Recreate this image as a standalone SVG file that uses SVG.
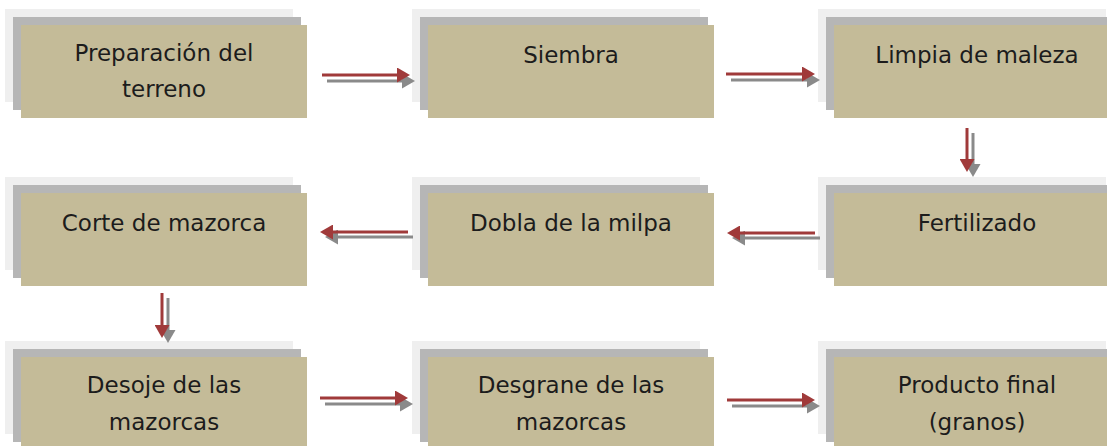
<svg xmlns="http://www.w3.org/2000/svg" width="1107" height="446" viewBox="0 0 1107 446">
<style>
.l{fill:#efefef}
.g{fill:#b6b6b6}
.t{fill:#c4bb98}
.tx{font-family:"DejaVu Sans",sans-serif;font-size:23px;fill:#1c1c1c;text-anchor:middle}
.r{stroke:#a03a3a;stroke-width:3;fill:none}
.s{stroke:#8a8a8a;stroke-width:3;fill:none}
</style>
<defs>
<marker id="ar" viewBox="0 0 13 15" refX="2" refY="7.5" markerWidth="13" markerHeight="15" markerUnits="userSpaceOnUse" orient="auto"><path d="M0,0 L13,7.5 L0,15 Z" fill="#a03a3a"/></marker>
<marker id="as" viewBox="0 0 13 15" refX="2" refY="7.5" markerWidth="13" markerHeight="15" markerUnits="userSpaceOnUse" orient="auto"><path d="M0,0 L13,7.5 L0,15 Z" fill="#8a8a8a"/></marker>
</defs>
<rect width="1107" height="446" fill="#ffffff"/>
<g id="n1"><rect class="l" x="5" y="9" width="288" height="93"/><rect class="g" x="13" y="17" width="288" height="93"/><rect class="t" x="21" y="25" width="286" height="93"/><text class="tx" x="164" y="61">Preparación del</text><text class="tx" x="164" y="97">terreno</text></g>
<g id="n2"><rect class="l" x="412" y="9" width="288" height="93"/><rect class="g" x="420" y="17" width="288" height="93"/><rect class="t" x="428" y="25" width="286" height="93"/><text class="tx" x="571" y="63">Siembra</text></g>
<g id="n3"><rect class="l" x="818" y="9" width="288" height="93"/><rect class="g" x="826" y="17" width="288" height="93"/><rect class="t" x="834" y="25" width="286" height="93"/><text class="tx" x="977" y="63">Limpia de maleza</text></g>
<g id="n4"><rect class="l" x="818" y="177" width="288" height="93"/><rect class="g" x="826" y="185" width="288" height="93"/><rect class="t" x="834" y="193" width="286" height="93"/><text class="tx" x="977" y="231">Fertilizado</text></g>
<g id="n5"><rect class="l" x="412" y="177" width="288" height="93"/><rect class="g" x="420" y="185" width="288" height="93"/><rect class="t" x="428" y="193" width="286" height="93"/><text class="tx" x="571" y="231">Dobla de la milpa</text></g>
<g id="n6"><rect class="l" x="5" y="177" width="288" height="93"/><rect class="g" x="13" y="185" width="288" height="93"/><rect class="t" x="21" y="193" width="286" height="93"/><text class="tx" x="164" y="231">Corte de mazorca</text></g>
<g id="n7"><rect class="l" x="5" y="341" width="288" height="93"/><rect class="g" x="13" y="349" width="288" height="93"/><rect class="t" x="21" y="357" width="286" height="93"/><text class="tx" x="164" y="393">Desoje de las</text><text class="tx" x="164" y="430">mazorcas</text></g>
<g id="n8"><rect class="l" x="412" y="341" width="288" height="93"/><rect class="g" x="420" y="349" width="288" height="93"/><rect class="t" x="428" y="357" width="286" height="93"/><text class="tx" x="571" y="393">Desgrane de las</text><text class="tx" x="571" y="430">mazorcas</text></g>
<g id="n9"><rect class="l" x="818" y="341" width="288" height="93"/><rect class="g" x="826" y="349" width="288" height="93"/><rect class="t" x="834" y="357" width="286" height="93"/><text class="tx" x="977" y="393">Producto final</text><text class="tx" x="977" y="430">(granos)</text></g>
<g id="connectors">
<line class="s" x1="327" y1="81" x2="404" y2="81" marker-end="url(#as)"/>
<line class="r" x1="322" y1="75" x2="399" y2="75" marker-end="url(#ar)"/>
<line class="s" x1="731" y1="80" x2="809" y2="80" marker-end="url(#as)"/>
<line class="r" x1="726" y1="74" x2="804" y2="74" marker-end="url(#ar)"/>
<line class="s" x1="973" y1="133" x2="973" y2="166" marker-end="url(#as)"/>
<line class="r" x1="967" y1="128" x2="967" y2="161" marker-end="url(#ar)"/>
<line class="s" x1="820" y1="238" x2="743" y2="238" marker-end="url(#as)"/>
<line class="r" x1="815" y1="233" x2="738" y2="233" marker-end="url(#ar)"/>
<line class="s" x1="413" y1="237" x2="336" y2="237" marker-end="url(#as)"/>
<line class="r" x1="408" y1="232" x2="331" y2="232" marker-end="url(#ar)"/>
<line class="s" x1="168" y1="298" x2="168" y2="332" marker-end="url(#as)"/>
<line class="r" x1="162" y1="293" x2="162" y2="327" marker-end="url(#ar)"/>
<line class="s" x1="325" y1="404" x2="402" y2="404" marker-end="url(#as)"/>
<line class="r" x1="320" y1="398" x2="397" y2="398" marker-end="url(#ar)"/>
<line class="s" x1="732" y1="406" x2="809" y2="406" marker-end="url(#as)"/>
<line class="r" x1="727" y1="400" x2="804" y2="400" marker-end="url(#ar)"/>
</g>
</svg>
